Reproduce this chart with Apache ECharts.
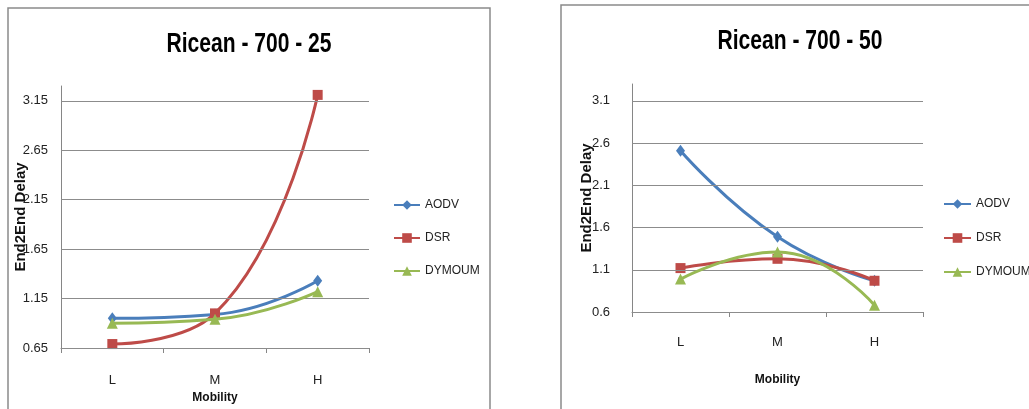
<!DOCTYPE html>
<html>
<head>
<meta charset="utf-8">
<script src="https://cdn.jsdelivr.net/npm/echarts@6/dist/echarts.min.js"></script>
<style>
html,body{margin:0;padding:0;background:#fff;}
#chart{width:1029px;height:409px;}
</style>
</head>
<body>
<div id="chart"></div>
<script>
const categories = ['L', 'M', 'H'];
const seriesNames = ['AODV', 'DSR', 'DYMOUM'];
const aodv25 = [0.95, 0.99, 1.33];
const dsr25 = [0.69, 1.00, 3.21];
const dymoum25 = [0.90, 0.94, 1.22];
const aodv50 = [2.51, 1.49, 0.97];
const dsr50 = [1.12, 1.23, 0.97];
const dymoum50 = [0.99, 1.31, 0.68];
const ticks25 = [0.65, 1.15, 1.65, 2.15, 2.65, 3.15];
const ticks50 = [0.6, 1.1, 1.6, 2.1, 2.6, 3.1];
const title25 = 'Ricean - 700 - 25';
const title50 = 'Ricean - 700 - 50';
const yName = 'End2End Delay';
const xName = 'Mobility';

const colors = ['#4A7EBB', '#BE4B48', '#98B954'];
const symbols = ['diamond', 'rect', 'triangle'];
const symSizes = [[9, 12], 10, 11];
const font = '"Liberation Sans", Arial, sans-serif';
const gridColor = '#8c8c8c';

function makeYAxis(idx, ticks, min, max, step, decimals, margin, nameGap) {
  return {
    type: 'value', gridIndex: idx, min: min, max: max, interval: step,
    splitLine: {show: false},
    axisTick: {show: false},
    axisLine: {show: true, lineStyle: {color: '#868686', width: 1}},
    axisLabel: {
      show: true, margin: margin, color: '#222', fontFamily: font, fontSize: 13,
      showMaxLabel: false,
      formatter: function (v) {
        for (const t of ticks) { if (Math.abs(v - t) < 1e-6) return t.toFixed(decimals); }
        return '';
      }
    },
    name: yName, nameLocation: 'middle', nameRotate: 90, nameGap: nameGap, nameMoveOverlap: false,
    nameTextStyle: {fontFamily: font, fontWeight: 'bold', fontSize: 15, color: '#111'}
  };
}
function makeXAxis(idx, labelMargin, nameGap) {
  return {
    type: 'category', gridIndex: idx, data: categories, boundaryGap: true,
    axisLine: {show: true, lineStyle: {color: '#868686', width: 1}},
    axisTick: {show: true, length: 5, lineStyle: {color: '#868686'}},
    axisLabel: {margin: labelMargin, color: '#222', fontFamily: font, fontSize: 13},
    name: xName, nameLocation: 'middle', nameGap: nameGap, nameMoveOverlap: false,
    nameTextStyle: {fontFamily: font, fontWeight: 'bold', fontSize: 12, color: '#111'}
  };
}
function gridSeries(idx, ticks) {
  return {
    type: 'line', xAxisIndex: idx, yAxisIndex: idx, data: [null, null, null], z: 1,
    silent: true, showSymbol: false, legendHoverLink: false, tooltip: {show: false},
    markLine: {
      silent: true, symbol: ['none', 'none'], animation: false,
      label: {show: false},
      lineStyle: {color: gridColor, width: 1, type: 'solid'},
      emphasis: {disabled: true},
      data: ticks.map(function (t) { return {yAxis: t}; })
    }
  };
}
function dataSeries(idx, i, values) {
  return {
    type: 'line', name: seriesNames[i], xAxisIndex: idx, yAxisIndex: idx,
    data: values, smooth: 0.5, z: 3 + i,
    symbol: symbols[i], symbolSize: symSizes[i],
    lineStyle: {color: colors[i], width: 3},
    itemStyle: {color: colors[i]},
    animation: false
  };
}
function titleText(text, x, y) {
  return {
    type: 'text', x: x, y: y, scaleX: 0.78, silent: true,
    style: {text: text, fill: '#000', font: 'bold 27px "Liberation Sans", Arial, sans-serif',
            textAlign: 'center', textVerticalAlign: 'middle'}
  };
}

const chart = echarts.init(document.getElementById('chart'), null, {renderer: 'canvas'});
chart.setOption({
  animation: false,
  backgroundColor: '#fff',
  graphic: [
    {type: 'rect', shape: {x: 8, y: 8, width: 482, height: 430}, style: {fill: 'none', stroke: '#8a8a8a', lineWidth: 1.5}, silent: true},
    {type: 'rect', shape: {x: 561, y: 5, width: 520, height: 430}, style: {fill: 'none', stroke: '#8a8a8a', lineWidth: 1.5}, silent: true},
    titleText(title25, 249, 45),
    titleText(title50, 800, 42)
  ],
  legend: [
    {data: seriesNames, orient: 'vertical', left: 393, top: 199, padding: 0, itemWidth: 26, itemHeight: 12, itemGap: 21,
     textStyle: {fontFamily: font, fontSize: 12, color: '#222'}, selectedMode: false},
    {data: seriesNames, orient: 'vertical', left: 943, top: 198, padding: 0, itemWidth: 27, itemHeight: 12, itemGap: 22,
     textStyle: {fontFamily: font, fontSize: 12, color: '#222'}, selectedMode: false}
  ],
  grid: [
    {left: 61, top: 86, width: 308, height: 265},
    {left: 632, top: 84, width: 291, height: 228}
  ],
  xAxis: [makeXAxis(0, 26, 44), makeXAxis(1, 24, 62)],
  yAxis: [
    makeYAxis(0, ticks25, 0.65, 3.3, 0.05, 2, 13, 33),
    makeYAxis(1, ticks50, 0.6, 3.3, 0.1, 1, 22, 38)
  ],
  series: [
    gridSeries(0, ticks25),
    dataSeries(0, 0, aodv25), dataSeries(0, 1, dsr25), dataSeries(0, 2, dymoum25),
    gridSeries(1, ticks50),
    dataSeries(1, 0, aodv50), dataSeries(1, 1, dsr50), dataSeries(1, 2, dymoum50)
  ]
});
</script>
</body>
</html>
